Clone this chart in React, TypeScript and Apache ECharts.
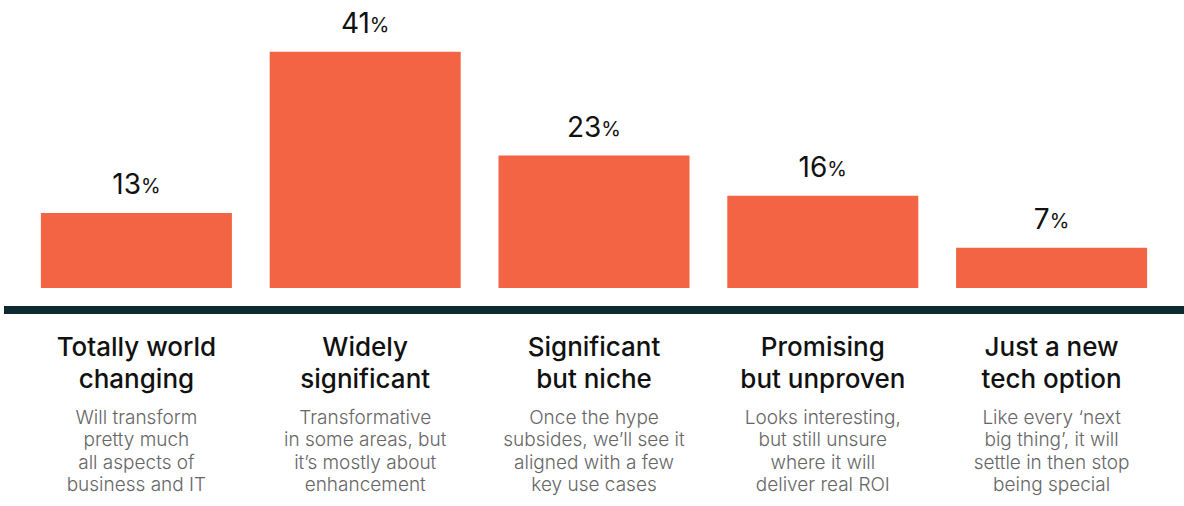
import React, { useEffect, useRef } from "react";
import * as echarts from "echarts";

const titles = [
  "Totally world\nchanging",
  "Widely\nsignificant",
  "Significant\nbut niche",
  "Promising\nbut unproven",
  "Just a new\ntech option",
];
const descriptions = [
  "Will transform\npretty much\nall aspects of\nbusiness and IT",
  "Transformative\nin some areas, but\nit\u2019s mostly about\nenhancement",
  "Once the hype\nsubsides, we\u2019ll see it\naligned with a few\nkey use cases",
  "Looks interesting,\nbut still unsure\nwhere it will\ndeliver real ROI",
  "Like every \u2018next\nbig thing\u2019, it will\nsettle in then stop\nbeing special",
];
const values = [13, 41, 23, 16, 7];

const FONT = "Inter, 'Noto Sans', sans-serif";

export default function App() {
  const ref = useRef<HTMLDivElement>(null);
  useEffect(() => {
    if (!ref.current) return;
    const chart = echarts.init(ref.current, null, { renderer: "svg" });
    const categories = titles.map((t, i) => {
      const tl = t.split("\n").map((s) => `{t|${s}}`).join("\n");
      const dl = descriptions[i].split("\n").map((s) => `{d|${s}}`).join("\n");
      return `${tl}\n{g|}\n${dl}`;
    });
    chart.setOption({
      animation: false,
      backgroundColor: "#ffffff",
      grid: { left: 22, right: 18, top: 0, bottom: 218, containLabel: false },
      xAxis: {
        type: "category",
        data: categories,
        axisLine: { show: false },
        axisTick: { show: false },
        axisLabel: {
          interval: 0,
          margin: 42,
          fontFamily: FONT,
          rich: {
            t: { fontSize: 26, fontWeight: 500, lineHeight: 32, color: "#111111", fontFamily: FONT },
            g: { fontSize: 6, lineHeight: 12 },
            d: { fontSize: 19, fontWeight: 300, lineHeight: 22.5, color: "#666666", fontFamily: FONT },
          },
        },
      },
      yAxis: {
        type: "value",
        min: 0,
        max: 50,
        show: false,
        splitLine: { show: false },
      },
      graphic: [
        {
          type: "rect",
          shape: { x: 4, y: 306, width: 1180, height: 8 },
          style: { fill: "#0c2a30" },
          silent: true,
        },
      ],
      series: [
        {
          type: "bar",
          data: values,
          barWidth: 191,
          itemStyle: { color: "#f26444" },
          label: {
            show: true,
            position: "top",
            distance: 15,
            formatter: (p: any) => `{n|${p.value}}{p|%}`,
            rich: {
              n: { fontSize: 28, fontWeight: 400, color: "#111111", fontFamily: FONT },
              p: { fontSize: 20, fontWeight: 400, color: "#111111", fontFamily: FONT, padding: [4, 0, 0, 0] },
            },
          },
        },
      ],
    });
    return () => chart.dispose();
  }, []);
  return <div ref={ref} style={{ width: 1184, height: 506, position: "absolute", left: 0, top: 0 }} />;
}
